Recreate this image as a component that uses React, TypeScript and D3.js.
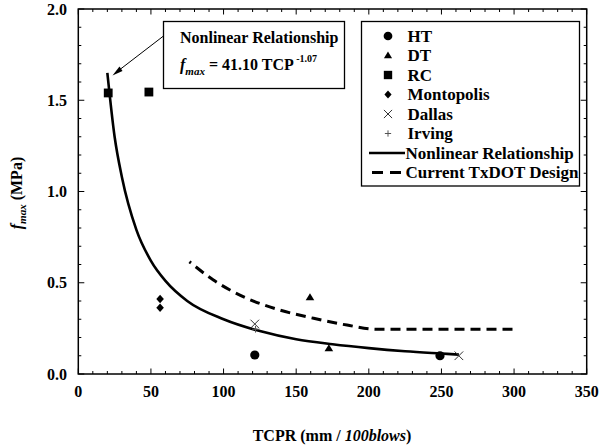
import React from "react";
import * as d3 from "d3";

const W = 599;
const H = 448;

// Axis ticks
const xMajorTicks = [0, 50, 100, 150, 200, 250, 300, 350];
const yMajorTicks = [0, 0.5, 1.0, 1.5, 2.0];

// Series data (TCPR, fmax)
const HT: [number, number][] = [[121.5, 0.104], [249, 0.10]];
const DT: [number, number][] = [[159.5, 0.42], [172.5, 0.14]];
const RC: [number, number][] = [[20.6, 1.54], [48.6, 1.545]];
const MONTOPOLIS: [number, number][] = [[56.3, 0.411], [56.3, 0.363]];
const DALLAS: [number, number][] = [[121.5, 0.274], [262, 0.10]];
const IRVING: [number, number][] = [[122, 0.245]];

const NONLINEAR: [number, number][] = [
  [20, 1.65], [25, 1.30], [30, 1.08], [40, 0.79], [50, 0.62], [60, 0.51],
  [75, 0.40], [100, 0.30], [125, 0.235], [150, 0.19], [175, 0.163],
  [200, 0.142], [225, 0.125], [250, 0.112], [262, 0.106],
];
const TXDOT: [number, number][] = [
  [76.5, 0.615], [93, 0.515], [116, 0.415], [139, 0.35], [162, 0.305],
  [185, 0.268], [205, 0.245], [300, 0.245],
];

const legendItems = [
  "HT", "DT", "RC", "Montopolis", "Dallas", "Irving",
  "Nonlinear Relationship", "Current TxDOT Design",
];

const FONT = "'Liberation Serif', 'Times New Roman', serif";

const x = d3.scaleLinear().domain([0, 350]).range([78.3, 586.7]);
const y = d3.scaleLinear().domain([0, 2]).range([374, 9]);

function Marker({ kind, cx, cy, s = 1 }: { kind: string; cx: number; cy: number; s?: number }) {
  switch (kind) {
    case "HT":
      return <circle cx={cx} cy={cy} r={4.6 * s} fill="#000" />;
    case "DT": {
      const w = 4.3 * s, h = 7 * s;
      return <path d={`M${cx},${cy - h * 0.6}L${cx + w},${cy + h * 0.4}L${cx - w},${cy + h * 0.4}Z`} fill="#000" />;
    }
    case "RC": {
      const a = 4.4 * s;
      return <rect x={cx - a} y={cy - a} width={2 * a} height={2 * a} fill="#000" />;
    }
    case "Montopolis": {
      const a = 4.2 * s;
      return <path d={`M${cx},${cy - a}L${cx + a * 0.9},${cy}L${cx},${cy + a}L${cx - a * 0.9},${cy}Z`} fill="#000" />;
    }
    case "Dallas": {
      const a = 4.3 * s;
      return <path d={`M${cx - a},${cy - a}L${cx + a},${cy + a}M${cx - a},${cy + a}L${cx + a},${cy - a}`} stroke="#333" strokeWidth={1} fill="none" />;
    }
    case "Irving": {
      const a = 3.3 * s;
      return <path d={`M${cx - a},${cy}L${cx + a},${cy}M${cx},${cy - a}L${cx},${cy + a}`} stroke="#555" strokeWidth={1} fill="none" />;
    }
    default:
      return null;
  }
}

export default function App() {
  const line = d3.line<[number, number]>().x(d => x(d[0])).y(d => y(d[1])).curve(d3.curveMonotoneX);
  const x0 = x(0), x1 = x(350), y0 = y(0), y1 = y(2);

  const xMinor = d3.range(0, 351, 10);
  const yMinor = d3.range(0, 2.001, 0.1);

  const series: [string, [number, number][]][] = [
    ["HT", HT], ["DT", DT], ["RC", RC], ["Montopolis", MONTOPOLIS], ["Dallas", DALLAS], ["Irving", IRVING],
  ];

  const legX = 388;
  const legY0 = 36;
  const legDy = 19.5;

  return (
    <svg width={W} height={H} style={{ position: "absolute", left: 0, top: 0, background: "#fff" }} fontFamily={FONT}>
      <rect x={0} y={0} width={W} height={H} fill="#fff" />
      {/* ticks */}
      {xMinor.map(v => {
        const major = v % 50 === 0;
        const len = major ? 5.5 : 3;
        return (
          <g key={"xt" + v}>
            <line x1={x(v)} x2={x(v)} y1={y0} y2={y0 - len} stroke="#000" strokeWidth={1} />
            <line x1={x(v)} x2={x(v)} y1={y1} y2={y1 + len} stroke="#000" strokeWidth={1} />
          </g>
        );
      })}
      {yMinor.map((v, i) => {
        const major = i % 5 === 0;
        const len = major ? 6 : 3;
        return (
          <g key={"yt" + i}>
            <line x1={x0} x2={x0 + len} y1={y(v)} y2={y(v)} stroke="#000" strokeWidth={1} />
            <line x1={x1} x2={x1 - len} y1={y(v)} y2={y(v)} stroke="#000" strokeWidth={1} />
          </g>
        );
      })}
      {/* frame */}
      <rect x={x0} y={y1} width={x1 - x0} height={y0 - y1} fill="none" stroke="#000" strokeWidth={1.5} />

      {/* tick labels */}
      {xMajorTicks.map(v => (
        <text key={"xl" + v} x={x(v)} y={397} textAnchor="middle" fontSize={16} fontWeight="bold">{v}</text>
      ))}
      {yMajorTicks.map(v => (
        <text key={"yl" + v} x={67} y={y(v)} dy="0.35em" textAnchor="end" fontSize={16} fontWeight="bold">{d3.format(".1f")(v)}</text>
      ))}

      {/* axis titles */}
      <text x={332} y={441} textAnchor="middle" fontSize={16} fontWeight="bold">
        TCPR (mm / <tspan fontStyle="italic">100blows</tspan>)
      </text>
      <text transform="translate(22,193) rotate(-90)" textAnchor="middle" fontSize={16} fontWeight="bold">
        <tspan fontStyle="italic">f</tspan>
        <tspan fontStyle="italic" fontSize={11} dy={4}>max</tspan>
        <tspan dy={-4}> (MPa)</tspan>
      </text>

      {/* lines */}
      <path d={line(NONLINEAR) || ""} fill="none" stroke="#000" strokeWidth={2.6} />
      <path d={line(TXDOT) || ""} fill="none" stroke="#000" strokeWidth={3} strokeDasharray="10,6" strokeDashoffset={8} />

      {/* markers */}
      {series.map(([k, pts]) => pts.map((p, i) => (
        <Marker key={k + i} kind={k} cx={x(p[0])} cy={y(p[1])} />
      )))}

      {/* annotation box */}
      <rect x={163.5} y={21.5} width={181} height={67} fill="#fff" stroke="#000" strokeWidth={1.3} />
      <text x={180} y={43} fontSize={16} fontWeight="bold">Nonlinear Relationship</text>
      <text x={180} y={70} fontSize={16} fontWeight="bold">
        <tspan fontStyle="italic">f</tspan>
        <tspan fontStyle="italic" fontSize={11} dy={5}>max</tspan>
        <tspan dy={-5}> = 41.10 TCP</tspan>
        <tspan fontSize={10} dy={-8}> -1.07</tspan>
      </text>
      {/* arrow */}
      <line x1={163.5} y1={36} x2={116} y2={72.5} stroke="#000" strokeWidth={1} />
      <path d="M112.5,75.5 L119.5,66.5 L122.5,71 Z" fill="#000" />

      {/* legend */}
      <rect x={361.5} y={21.5} width={218} height={164.5} fill="#fff" stroke="#000" strokeWidth={1.3} />
      {legendItems.map((name, i) => {
        const cy = legY0 + i * legDy;
        let sym: React.ReactNode = null;
        if (i < 6) sym = <Marker kind={name} cx={legX} cy={cy} s={0.95} />;
        else if (i === 6) sym = <line x1={369} x2={405} y1={cy} y2={cy} stroke="#000" strokeWidth={2.6} />;
        else sym = <line x1={372} x2={404} y1={cy} y2={cy} stroke="#000" strokeWidth={3} strokeDasharray="11,7" />;
        const tx = i < 6 ? 407.5 : 405.5;
        return (
          <g key={name}>
            {sym}
            <text x={tx} y={cy} dy="0.35em" fontSize={17} fontWeight="bold">{name}</text>
          </g>
        );
      })}
    </svg>
  );
}
